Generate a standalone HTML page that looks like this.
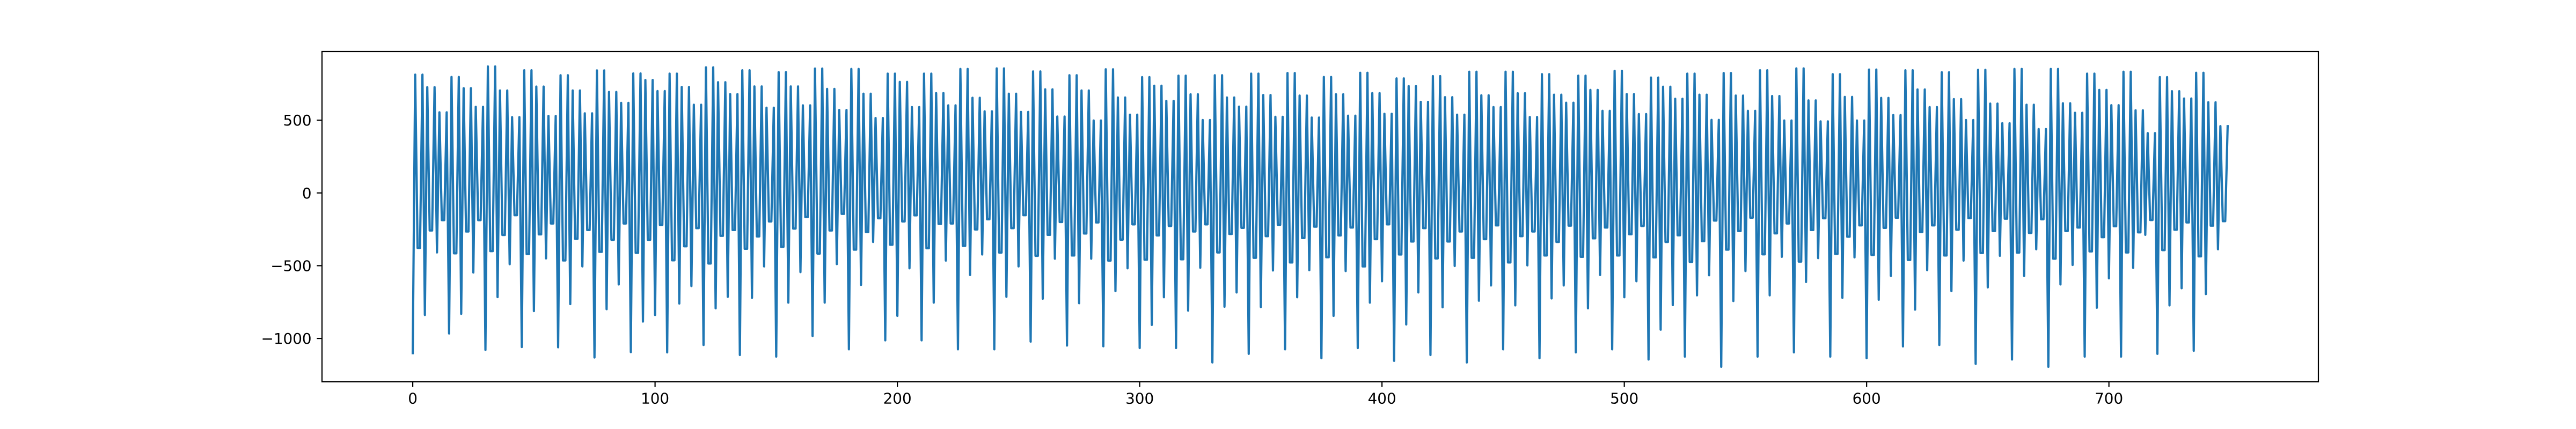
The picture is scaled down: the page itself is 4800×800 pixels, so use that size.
<!DOCTYPE html>
<html><head><meta charset="utf-8"><style>
html,body{margin:0;padding:0;background:#fff;}
svg{display:block;}
text{font-family:"DejaVu Sans","Liberation Sans",sans-serif;font-size:27.8px;fill:#000;}
</style></head><body>
<svg id="chart" width="4800" height="800" viewBox="0 0 4800 800" xmlns="http://www.w3.org/2000/svg">
<rect x="0" y="0" width="4800" height="800" fill="#fff"/>
<g id="plot"></g>
</svg>
<script>
// Values per 5-sample cycle: index 5g = deep, 5g+1 and 5g+4 = high, 5g+2 and 5g+3 = mid
const deepValues = [-1101,-839,-409,-966,-831,-547,-1079,-716,-490,-1059,-812,-450,-1061,-764,-505,-1131,-799,-629,-1094,-884,-839,-1096,-760,-640,-1045,-793,-714,-1114,-721,-505,-1125,-754,-544,-983,-754,-489,-1075,-632,-337,-1013,-845,-518,-1013,-754,-465,-1075,-564,-423,-1075,-714,-505,-1022,-727,-452,-1049,-758,-452,-1054,-675,-518,-1066,-907,-717,-1066,-809,-514,-1165,-782,-684,-1106,-784,-533,-1075,-717,-531,-1136,-845,-537,-1066,-754,-607,-1154,-904,-684,-1114,-786,-502,-1165,-741,-636,-1075,-773,-498,-1136,-725,-636,-1096,-793,-564,-1075,-717,-607,-1145,-940,-771,-1125,-704,-566,-1195,-743,-537,-1125,-704,-439,-1096,-612,-448,-1125,-721,-443,-1136,-734,-570,-1055,-802,-531,-1045,-675,-465,-1175,-649,-432,-1145,-570,-387,-1195,-629,-495,-1125,-789,-587,-1125,-515,-288,-1106,-773,-655,-1085,-695,-387];
const highValues = [813,727,554,797,720,592,869,704,521,843,731,529,809,704,547,842,694,619,821,776,700,820,728,606,863,761,679,843,732,586,830,732,602,855,715,570,852,682,515,820,763,590,820,686,602,852,654,561,856,682,557,835,712,525,809,704,498,850,656,538,796,737,633,806,678,501,809,656,593,820,673,523,824,669,518,797,678,531,826,686,544,787,734,626,803,658,538,833,671,590,833,685,522,816,675,620,806,708,564,839,679,542,793,730,647,820,675,502,824,669,564,843,666,498,856,636,492,816,660,498,848,653,535,843,711,590,829,645,501,846,614,479,852,606,439,852,616,551,820,708,603,833,568,411,796,699,649,826,623,459];
const midValues = [-378,-258,-187,-415,-265,-187,-400,-289,-153,-420,-285,-210,-464,-315,-255,-405,-322,-210,-412,-322,-220,-463,-367,-242,-485,-295,-255,-384,-299,-196,-370,-245,-166,-417,-258,-144,-390,-269,-174,-356,-196,-154,-380,-213,-210,-364,-251,-181,-410,-242,-153,-432,-288,-200,-430,-279,-203,-465,-321,-216,-459,-292,-227,-456,-265,-216,-409,-282,-240,-446,-297,-219,-478,-310,-232,-442,-292,-238,-505,-318,-216,-423,-334,-242,-450,-334,-265,-446,-318,-223,-478,-297,-265,-430,-337,-225,-439,-312,-238,-430,-284,-227,-443,-337,-291,-474,-331,-190,-390,-262,-170,-422,-278,-210,-472,-255,-174,-419,-301,-223,-426,-240,-170,-461,-269,-223,-430,-253,-173,-413,-262,-177,-410,-275,-181,-452,-262,-238,-402,-304,-229,-409,-271,-186,-393,-253,-203,-436,-225,-194];
const xTickValues = [0,100,200,300,400,500,600,700];
const yTickValues = [-1000,-500,0,500];
const yTickLabels = ["\u22121000","\u2212500","0","500"];

const NS = "http://www.w3.org/2000/svg";
const plot = document.getElementById("plot");
const AX = {l:600, r:4320, t:96, b:712};

// series assembled from the arrays above
const series = [];
for (let g = 0; g < deepValues.length; g++) {
  series.push(deepValues[g], highValues[g], midValues[g], midValues[g], highValues[g]);
}
const n = series.length;
const ymin = Math.min(...series), ymax = Math.max(...series);
const ypad = (ymax - ymin) * 0.05;
const xmin = -(n - 1) * 0.05, xmax = (n - 1) * 1.05;
const y0 = ymin - ypad, y1 = ymax + ypad;
function sx(v){ return AX.l + (v - xmin) / (xmax - xmin) * (AX.r - AX.l); }
function sy(v){ return AX.b - (v - y0) / (y1 - y0) * (AX.b - AX.t); }

function mk(tag, attrs){ const e = document.createElementNS(NS, tag); for (const k in attrs) e.setAttribute(k, attrs[k]); return e; }

// line
let d = "";
series.forEach((v, i) => { d += (i ? "L" : "M") + sx(i).toFixed(2) + " " + sy(v).toFixed(2); });
const line = mk("path", {d: d, fill: "none", stroke: "#1f77b4", "stroke-width": "4.17", "stroke-linejoin": "round", "stroke-linecap": "square"});


plot.appendChild(line);

// axes frame
const frame = mk("rect", {x: AX.l, y: AX.t, width: AX.r - AX.l, height: AX.b - AX.t, fill: "none", stroke: "#000", "stroke-width": "2.2"});


plot.appendChild(frame);

// x ticks
xTickValues.forEach((v) => {
  const x = sx(v);
  const t = mk("line", {x1: x, x2: x, y1: AX.b, y2: AX.b + 9.7, stroke: "#000", "stroke-width": "2.2"});
  
  
  plot.appendChild(t);
  const lab = mk("text", {x: x, y: AX.b + 19.4 + 21, "text-anchor": "middle"});
  lab.textContent = String(v);
  
  
  plot.appendChild(lab);
});

// y ticks
yTickValues.forEach((v, i) => {
  const y = sy(v);
  const t = mk("line", {x1: AX.l - 9.7, x2: AX.l, y1: y, y2: y, stroke: "#000", "stroke-width": "2.2"});
  
  
  plot.appendChild(t);
  const lab = mk("text", {x: AX.l - 19.4, y: y + 10, "text-anchor": "end"});
  lab.textContent = yTickLabels[i];
  
  
  plot.appendChild(lab);
});
</script>
</body></html>
